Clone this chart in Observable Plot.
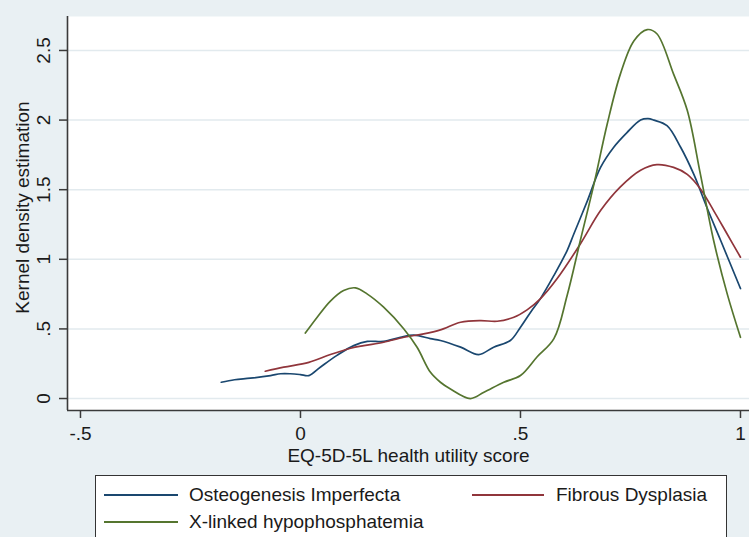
<!DOCTYPE html>
<html><head><meta charset="utf-8">
<script src="https://cdn.jsdelivr.net/npm/d3@7"></script>
<script src="https://cdn.jsdelivr.net/npm/@observablehq/plot@0.6"></script>
<style>
html,body{margin:0;padding:0;background:#e9f0f3;}
body{width:749px;height:537px;overflow:hidden;position:relative;font-family:"Liberation Sans",Arial,sans-serif;color:#1a1a1a;}
#chart{position:absolute;left:0;top:0;}
#legend{position:absolute;left:95px;top:475px;width:632px;height:80px;background:#fff;border:1.5px solid #333;box-sizing:border-box;}
.sw{position:absolute;height:2px;}
.lt{position:absolute;font-size:19px;line-height:20px;white-space:nowrap;}
</style></head><body>
<div id="chart"></div>
<div id="legend"></div>
<script>
const xTicks = [-0.5, 0, 0.5, 1];
const yTicks = [0, 0.5, 1, 1.5, 2, 2.5];
const xLabel = "EQ-5D-5L health utility score";
const yLabel = "Kernel density estimation";
const seriesNames = ["Osteogenesis Imperfecta", "Fibrous Dysplasia", "X-linked hypophosphatemia"];
const seriesColors = ["#1a476f", "#90353b", "#55752f"];

const oiX = [-0.18,-0.15,-0.114,-0.068,-0.045,-0.023,0.0,0.019,0.045,0.083,0.121,0.152,0.189,0.227,0.258,0.295,0.318,0.364,0.405,0.439,0.477,0.5,0.523,0.545,0.576,0.606,0.621,0.652,0.682,0.712,0.742,0.773,0.79,0.803,0.833,0.864,0.894,0.924,0.955,1.0];
const oiY = [0.117,0.135,0.146,0.165,0.178,0.178,0.172,0.165,0.225,0.31,0.38,0.41,0.41,0.44,0.455,0.43,0.417,0.369,0.316,0.369,0.417,0.512,0.62,0.716,0.884,1.063,1.18,1.42,1.66,1.805,1.91,2.0,2.01,2.0,1.96,1.805,1.61,1.37,1.135,0.79];

const fdX = [-0.08,-0.038,0.019,0.068,0.114,0.144,0.189,0.235,0.28,0.318,0.364,0.409,0.447,0.485,0.515,0.545,0.583,0.636,0.682,0.727,0.773,0.81,0.848,0.879,0.909,0.939,0.97,1.0];
const fdY = [0.196,0.225,0.26,0.316,0.361,0.38,0.404,0.44,0.464,0.493,0.548,0.56,0.555,0.584,0.637,0.716,0.86,1.11,1.35,1.52,1.64,1.68,1.66,1.61,1.505,1.35,1.18,1.015];

const xlhX = [0.011,0.038,0.068,0.098,0.125,0.152,0.189,0.235,0.265,0.295,0.318,0.34,0.386,0.417,0.462,0.5,0.538,0.576,0.606,0.636,0.667,0.697,0.727,0.758,0.788,0.81,0.848,0.879,0.909,0.939,0.97,1.0];
const xlhY = [0.47,0.584,0.70,0.776,0.795,0.75,0.656,0.5,0.368,0.19,0.117,0.07,0.0,0.045,0.117,0.165,0.3,0.43,0.74,1.135,1.54,1.97,2.33,2.57,2.65,2.62,2.33,2.07,1.61,1.135,0.75,0.44];

const xDomain = [-0.5295, 1.0205];
const yDomain = [-0.086, 2.744];

const rows = [];
[[oiX, oiY], [fdX, fdY], [xlhX, xlhY]].forEach(([xs, ys], i) => {
  xs.forEach((x, j) => rows.push({series: seriesNames[i], x, y: ys[j]}));
});

const fmt = d => d === 0 ? "0" : String(d).replace(/^(-?)0\./, "$1.");
const axisColor = "#3a3a3a";
const textColor = "#1a1a1a";

const chart = Plot.plot({
  width: 749, height: 475,
  marginLeft: 67, marginRight: 0, marginTop: 16, marginBottom: 65,
  style: {background: "transparent", fontFamily: "'Liberation Sans', Arial, sans-serif", fontSize: "19px", color: textColor, overflow: "visible"},
  x: {domain: xDomain},
  y: {domain: yDomain},
  color: {domain: seriesNames, range: seriesColors},
  marks: [
    Plot.frame({fill: "white", stroke: "none"}),
    Plot.gridY(yTicks, {stroke: "#e2eaee", strokeOpacity: 1, strokeWidth: 1.5}),
    Plot.line(rows, {x: "x", y: "y", z: "series", stroke: "series", strokeWidth: 1.7, curve: "catmull-rom"}),
    Plot.axisX(xTicks, {tickSize: 8, tickPadding: 7.5, tickFormat: fmt, label: null, stroke: axisColor, strokeWidth: 1.5, fontSize: 19, fill: textColor}),
    Plot.axisY(yTicks, {tickSize: 8, tickFormat: () => "", label: null, stroke: axisColor, strokeWidth: 1.5}),
    Plot.ruleX([xDomain[0]], {stroke: axisColor, strokeWidth: 1.6}),
    Plot.ruleY([yDomain[0]], {stroke: axisColor, strokeWidth: 1.6}),
    Plot.text(yTicks, {x: () => xDomain[0], y: d => d, text: fmt, rotate: -90, dx: -24, fontSize: 19, fill: textColor, textAnchor: "middle", lineAnchor: "middle"}),
    Plot.text([yLabel], {frameAnchor: "left", dx: -45, dy: -6, rotate: -90, fontSize: 19, fill: textColor, textAnchor: "middle", lineAnchor: "middle"}),
    Plot.text([xLabel], {frameAnchor: "bottom", dy: 51, fontSize: 19, fill: textColor, textAnchor: "middle", lineAnchor: "bottom"})
  ]
});
document.getElementById("chart").appendChild(chart);

const legend = document.getElementById("legend");
const items = [
  {i: 0, lineLeft: 8, lineW: 74, textLeft: 93, cy: 19},
  {i: 1, lineLeft: 376, lineW: 72, textLeft: 460, cy: 19},
  {i: 2, lineLeft: 8, lineW: 74, textLeft: 93, cy: 46}
];
items.forEach(it => {
  const sw = document.createElement("div");
  sw.className = "sw";
  sw.style.left = it.lineLeft + "px";
  sw.style.width = it.lineW + "px";
  sw.style.top = (it.cy - 1) + "px";
  sw.style.background = seriesColors[it.i];
  legend.appendChild(sw);
  const t = document.createElement("div");
  t.className = "lt";
  t.style.left = it.textLeft + "px";
  t.style.top = (it.cy - 10) + "px";
  t.textContent = seriesNames[it.i];
  legend.appendChild(t);
});
</script>
</body></html>
